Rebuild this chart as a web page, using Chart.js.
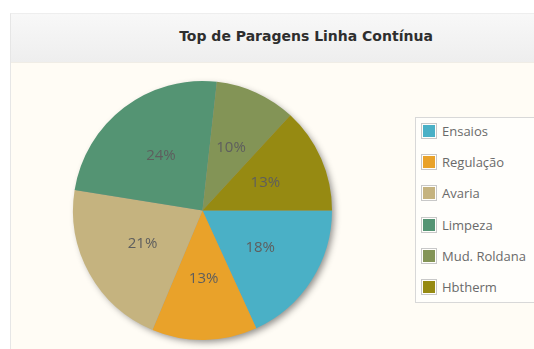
<!DOCTYPE html>
<html>
<head>
<meta charset="utf-8">
<script src="https://cdn.jsdelivr.net/npm/chart.js@4/dist/chart.umd.min.js"></script>
<style>
  body { margin: 0; background: #fff; width: 534px; height: 349px; overflow: hidden; position: relative; }
  #panel { position: absolute; left: 10px; top: 13px; width: 540px; height: 340px; border-left: 1px solid #e6e6e6; border-top: 1px solid #eeeeee; background: #fffcf5; }
  #header { height: 48px; background: linear-gradient(#f8f8f8, #eeeeee); border-bottom: 1px solid #f0ede6; }
  #title { position: absolute; left: 0; width: 590px; top: 14px; text-align: center; font: bold 14px "DejaVu Sans", Verdana, sans-serif; color: #2e2e2e; }
  #pie { position: absolute; left: 0; top: 49px; }
  #legend { position: absolute; left: 404px; top: 103px; width: 140px; height: 184px; border: 1px solid #d8d8d8; background: #fffefb; }
  #legend ul { list-style: none; margin: 0; padding: 0 0 0 5px; }
  #legend li { height: 26px; margin-bottom: 5.2px; display: flex; align-items: center; font: 13px "Open Sans", sans-serif; color: #6a6a6a; }
  #legend .sw { width: 12px; height: 12px; border: 1px solid #c8c8c8; padding: 1px; margin-right: 5px; background-clip: content-box; }
</style>
</head>
<body>
<div id="panel">
  <div id="header"></div>
  <div id="title">Top de Paragens Linha Contínua</div>
  <canvas id="pie" width="400" height="287"></canvas>
  <div id="legend"></div>
</div>
<script>
const labels = ['Ensaios', 'Regulação', 'Avaria', 'Limpeza', 'Mud. Roldana', 'Hbtherm'];
const percents = [18, 13, 21, 24, 10, 13];
const colors = ['#4ab0c6', '#e9a22a', '#c5b37f', '#549473', '#839456', '#968a12'];

// soft drop shadow under the whole pie, drawn before the slices
const pieShadow = {
  id: 'pieShadow',
  beforeDatasetsDraw(chart) {
    const arc = chart.getDatasetMeta(0).data[0];
    if (!arc) return;
    const ctx = chart.ctx;
    ctx.save();
    ctx.shadowColor = 'rgba(0,0,0,0.45)';
    ctx.shadowBlur = 7;
    ctx.shadowOffsetX = 3;
    ctx.shadowOffsetY = 3;
    ctx.fillStyle = '#999';
    ctx.beginPath();
    ctx.arc(arc.x, arc.y, arc.outerRadius - 1, 0, Math.PI * 2);
    ctx.fill();
    ctx.restore();
  }
};

// percentage text inside each slice
const sliceLabels = {
  id: 'sliceLabels',
  afterDatasetsDraw(chart) {
    const ctx = chart.ctx;
    const values = chart.data.datasets[0].data;
    ctx.save();
    ctx.font = '15px "Open Sans", sans-serif';
    ctx.fillStyle = '#5e5e5e';
    ctx.textAlign = 'center';
    ctx.textBaseline = 'middle';
    chart.getDatasetMeta(0).data.forEach((arc, i) => {
      const mid = (arc.startAngle + arc.endAngle) / 2;
      const r = arc.outerRadius * 0.53;
      ctx.fillText(values[i] + '%', arc.x + Math.cos(mid) * r, arc.y + Math.sin(mid) * r);
    });
    ctx.restore();
  }
};

const chart = new Chart(document.getElementById('pie'), {
  type: 'pie',
  data: {
    labels: labels,
    datasets: [{
      data: percents,
      backgroundColor: colors,
      borderWidth: 0,
      hoverOffset: 0
    }]
  },
  options: {
    responsive: false,
    animation: false,
    rotation: 90,
    layout: { padding: { top: 18, bottom: 10, left: 61, right: 78 } },
    plugins: {
      legend: { display: false },
      tooltip: { enabled: false }
    }
  },
  plugins: [pieShadow, sliceLabels]
});

// legend list built from the chart's own labels and colours
const ul = document.createElement('ul');
chart.data.labels.forEach((name, i) => {
  const li = document.createElement('li');
  const sw = document.createElement('span');
  sw.className = 'sw';
  sw.style.backgroundColor = chart.data.datasets[0].backgroundColor[i];
  li.appendChild(sw);
  li.appendChild(document.createTextNode(name));
  ul.appendChild(li);
});
document.getElementById('legend').appendChild(ul);
</script>
</body>
</html>
